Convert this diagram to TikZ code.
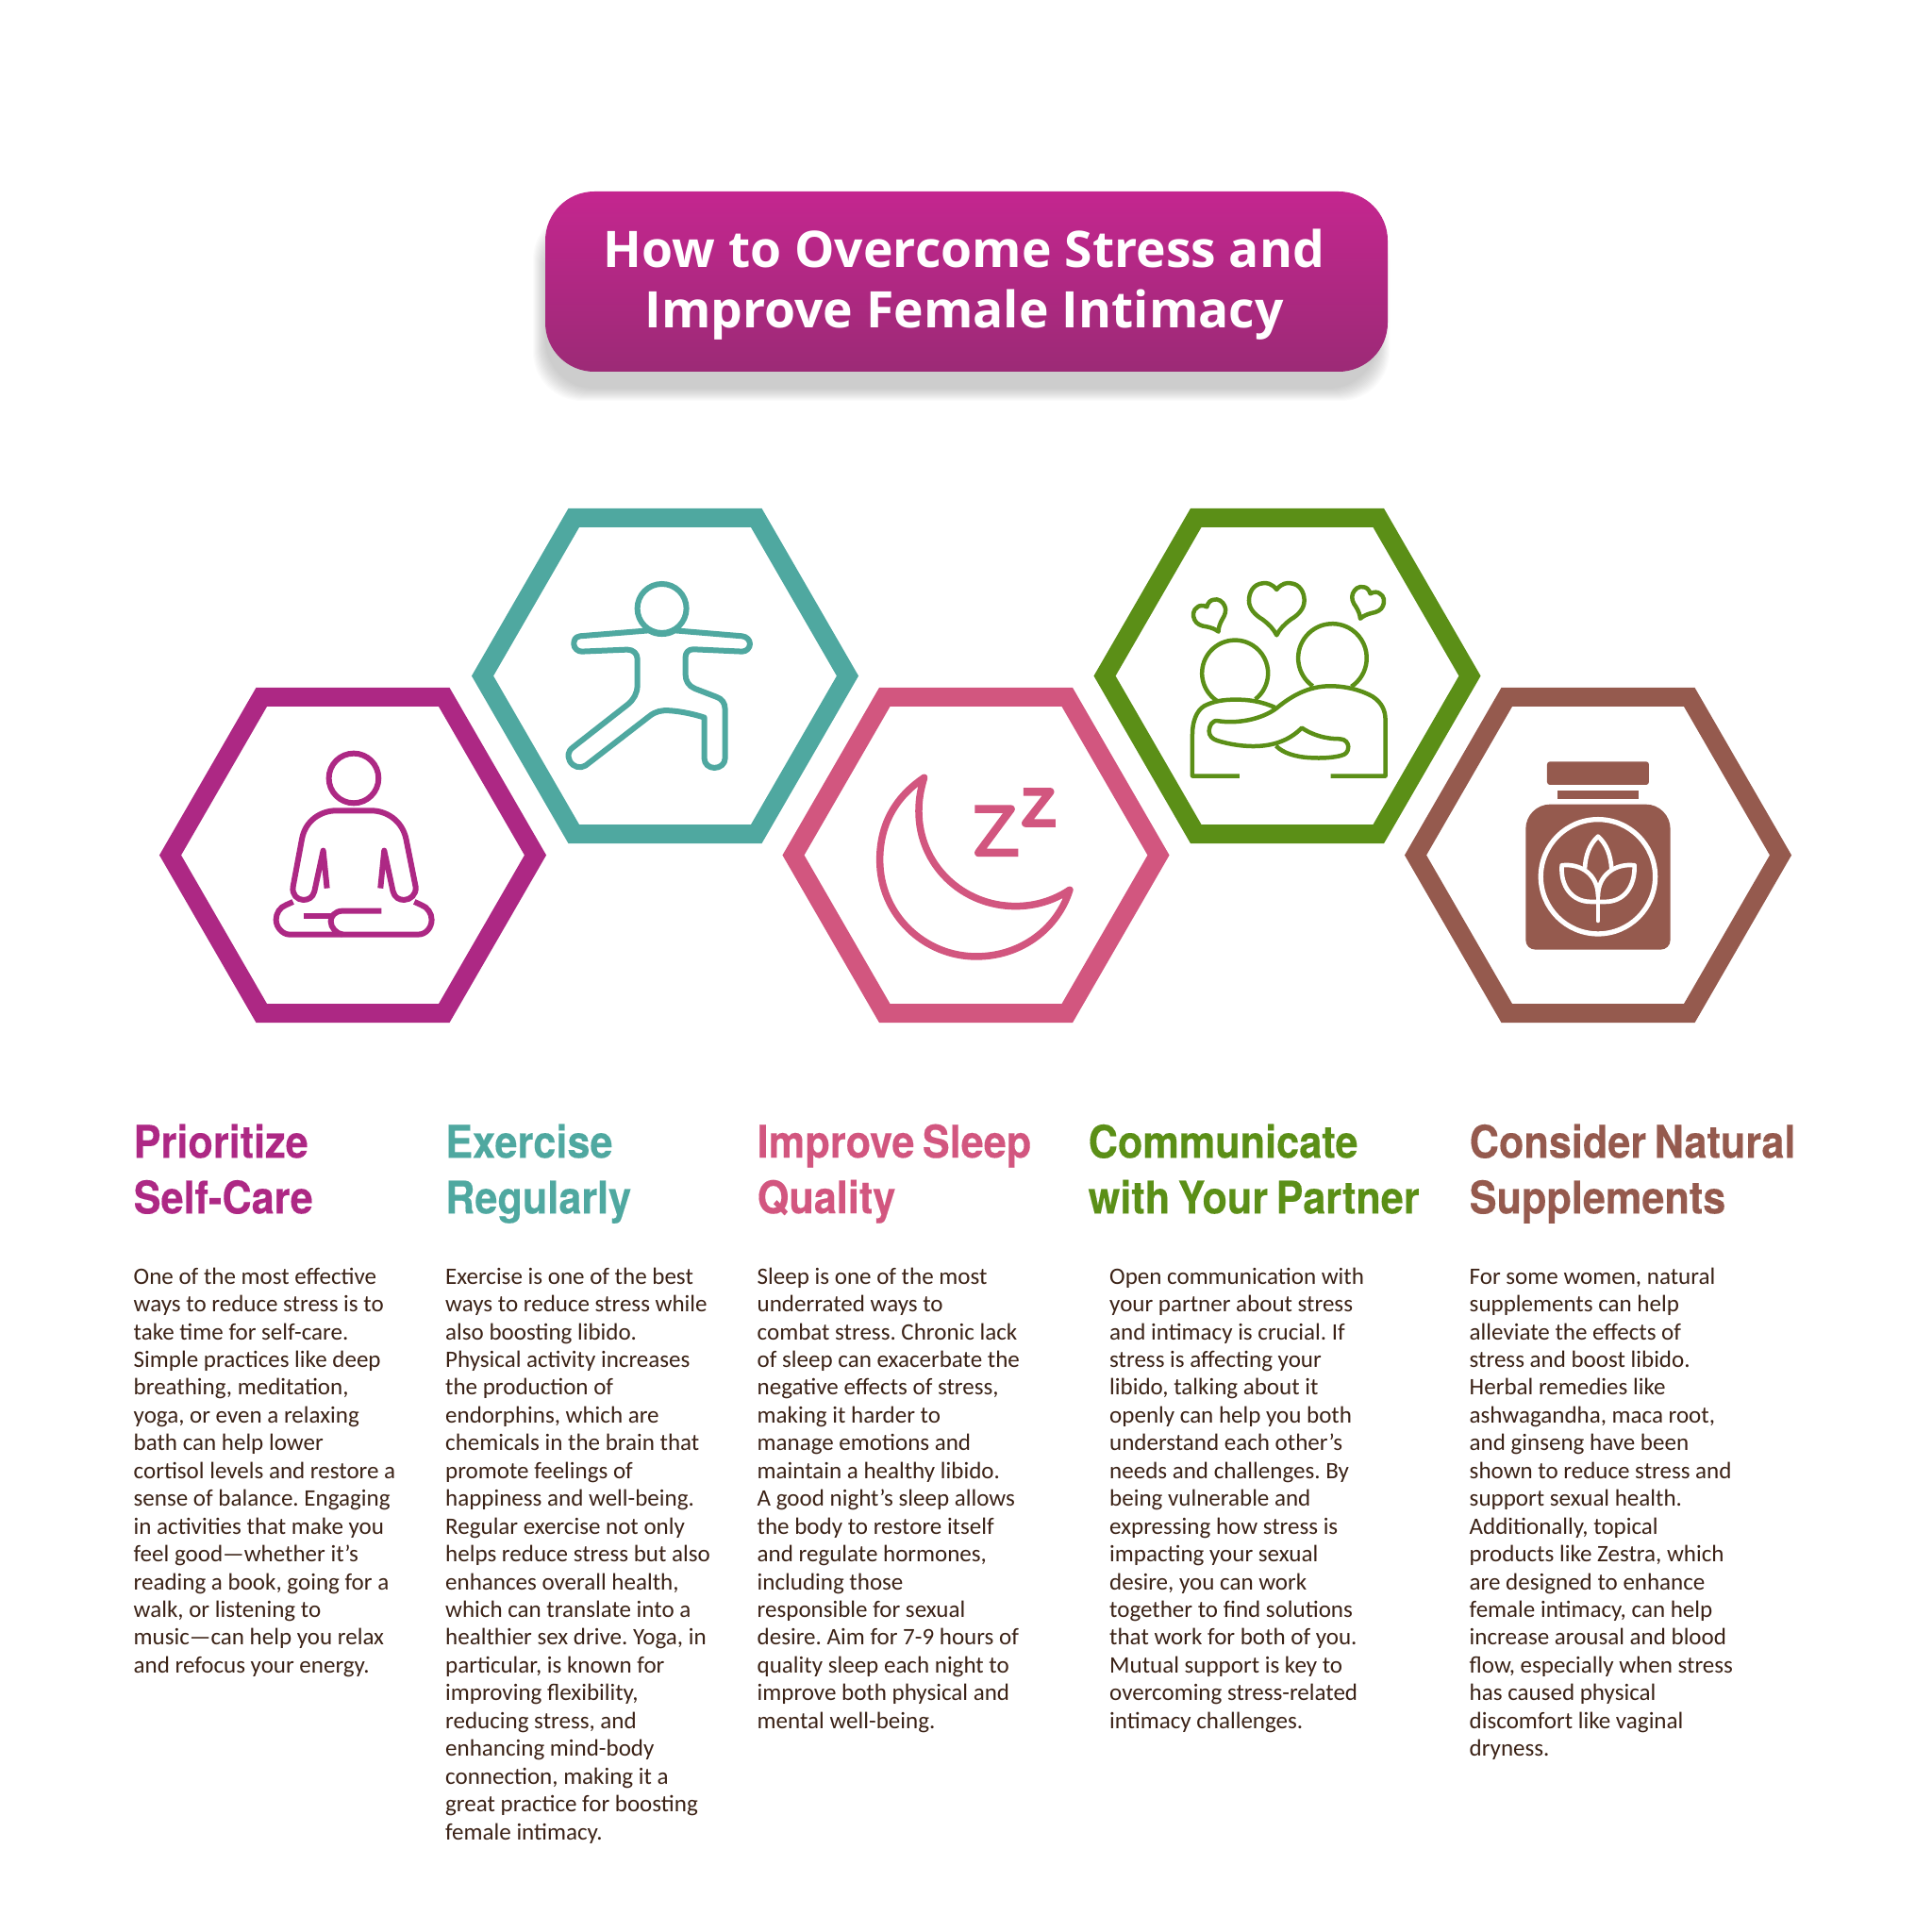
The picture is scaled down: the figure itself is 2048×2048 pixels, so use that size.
\documentclass[tikz,border=0pt]{standalone}
\usepackage{fontspec}
\usepackage{tikz}
\usetikzlibrary{positioning,shapes.geometric}
\newfontfamily\titlefont{Open Sans Bold}
\newfontfamily\headfont[FakeStretch=0.905,WordSpace=0.7,FakeBold=0.25]{TeX Gyre Heros Bold}
\newfontfamily\bodyfont{Carlito}
\definecolor{plum}{HTML}{AD2884}
\definecolor{seagreen}{HTML}{4FA8A0}
\definecolor{rose}{HTML}{D2567F}
\definecolor{leaf}{HTML}{5B8F17}
\definecolor{clay}{HTML}{955A4E}
\definecolor{inkbrown}{HTML}{3B2216}
\definecolor{bannertop}{HTML}{C4268F}
\definecolor{bannerbottom}{HTML}{9C2A76}
\newcommand{\lovepath}{(0,0) .. controls (15,-20) and (35,-23) .. (45,-20) .. controls (75,-17) and (88,10) .. (88,35) .. controls (88,60) and (70,80) .. (45,95) .. controls (25,110) and (10,125) .. (0,145) .. controls (-10,125) and (-25,110) .. (-45,95) .. controls (-70,80) and (-88,60) .. (-88,35) .. controls (-88,10) and (-75,-17) .. (-45,-20) .. controls (-35,-23) and (-15,-20) .. (0,0) -- cycle}

\begin{document}
\begin{tikzpicture}[
  x=0.1mm,
  y=-0.1mm,
  banner/.style={
    shape=rectangle,
    rounded corners=5.2mm,
    minimum width=89.3mm,
    minimum height=19.1mm,
    top color=bannertop,
    bottom color=bannerbottom,
  },
  bannertext/.style={
    text=white,
    align=center,
    font=\titlefont\fontsize{15.2}{18.2}\selectfont,
  },
  hexbox/.style={
    shape=regular polygon,
    regular polygon sides=6,
    minimum size=38.7mm,
    inner sep=0pt,
    outer sep=0pt,
    line width=2mm,
  },
  heading/.style={
    anchor=north west,
    align=left,
    inner sep=0pt,
    font=\headfont\fontsize{13.6}{16.8}\selectfont,
  },
  bodytext/.style={
    anchor=north west,
    align=left,
    inner sep=0pt,
    text=inkbrown,
    font=\bodyfont\frenchspacing\fontsize{7.12}{8.38}\selectfont,
  },
  zoomed/.style={
    x=0.03333mm,
    y=-0.03333mm,
  },
  iconline/.style={
    draw,
    line join=round,
    line width=0.6mm,
  }]
  \useasboundingbox (0,0) rectangle (2048,2048);

  % soft shadow under the banner
  \foreach \i in {1,...,14}
    \fill[black, opacity=0.014, rounded corners=5.2mm] (564+\i,222+\i) rectangle (1474-\i,426-\i);
  \node[banner] (title) at (1024.5,298.5) {};
  \node[bannertext, yshift=-0.35mm, xshift=-0.25mm] (titletext) at (title) {How to Overcome Stress and\\Improve Female Intimacy};

  % hexagons
  \node[hexbox, draw=plum] (hexA) at (374,906.5) {};
  \node[hexbox, draw=seagreen] (hexB) at (705,716.5) {};
  \node[hexbox, draw=rose] (hexC) at (1034.5,906.5) {};
  \node[hexbox, draw=leaf] (hexD) at (1364.5,716.5) {};
  \node[hexbox, draw=clay] (hexE) at (1694,906.5) {};

  % meditating figure
  \begin{scope}[shift={(160,720)}, zoomed, plum]
    \draw[iconline] (645,315) circle[radius=79];
    \draw[iconline] (560,665) -- (548,545) -- (520,675) .. controls (515,695) and (500,702) .. (485,702)
      .. controls (465,702) and (448,685) .. (452,660) -- (480,510) .. controls (490,450) and (540,418) .. (590,418)
      -- (700,418) .. controls (750,418) and (800,450) .. (812,510) -- (842,660)
      .. controls (845,685) and (825,702) .. (805,702) .. controls (790,702) and (775,695) .. (770,675)
      -- (742,545) -- (730,665);
    \draw[iconline] (452,708) -- (430,718) .. controls (410,725) and (398,745) .. (398,765)
      .. controls (398,790) and (420,812) .. (440,812) -- (850,812)
      .. controls (875,812) and (893,790) .. (893,765) .. controls (893,745) and (880,725) .. (860,718) -- (838,708);
    \draw[iconline] (485,752) -- (575,752);
    \draw[iconline] (733,737) -- (610,737) .. controls (585,737) and (572,755) .. (572,770)
      .. controls (572,790) and (590,810) .. (610,812);
  \end{scope}

  % warrior pose
  \begin{scope}[shift={(500,530)}, zoomed, seagreen]
    \draw[iconline] (605,345) circle[radius=78];
    \draw[iconline] (565,415) -- (345,433) .. controls (328,435) and (325,448) .. (325,458)
      .. controls (325,472) and (338,482) .. (350,482) -- (495,476) .. controls (515,476) and (527,490) .. (527,505)
      -- (527,590) .. controls (527,615) and (515,635) .. (497,650) -- (322,787)
      .. controls (305,800) and (305,815) .. (312,830) .. controls (322,850) and (345,855) .. (362,845)
      -- (565,688) .. controls (585,672) and (605,668) .. (630,670) .. controls (665,672) and (710,682) .. (740,692)
      -- (740,822) .. controls (740,840) and (755,852) .. (772,852) .. controls (790,852) and (806,840) .. (806,822)
      -- (806,665) .. controls (806,645) and (795,632) .. (780,627) -- (710,600)
      .. controls (690,592) and (680,575) .. (680,555) -- (680,500) .. controls (680,485) and (690,475) .. (705,475)
      -- (860,482) .. controls (875,482) and (885,470) .. (885,458) .. controls (885,445) and (875,435) .. (860,433)
      -- (645,415);
    \draw[iconline] (565,415) .. controls (585,430) and (625,430) .. (645,415);
  \end{scope}

  % moon
  \begin{scope}[shift={(830,720)}, zoomed, rose]
    \draw[iconline, line width=0.75mm] (449,313) .. controls (350,380) and (308,470) .. (308,575)
      .. controls (308,750) and (450,882) .. (615,882) .. controls (760,882) and (875,790) .. (912,670)
      .. controls (860,705) and (800,722) .. (740,722) .. controls (570,722) and (432,590) .. (432,420)
      .. controls (432,380) and (438,350) .. (449,313) -- cycle;
    \draw[iconline, line width=0.85mm] (610,413) -- (725,413) -- (622,552) -- (748,552);
    \draw[iconline, line width=0.85mm] (765,358) -- (850,358) -- (772,458) -- (867,458);
  \end{scope}

  % couple
  \begin{scope}[shift={(1160,530)}, zoomed, leaf]
    \tikzset{iconline/.append style={line width=0.45mm}}
    \draw[iconline, shift={(580,285)}] \lovepath;
    \draw[iconline, shift={(358,340)}, rotate=25, scale=0.6] \lovepath;
    \draw[iconline, shift={(878,298)}, rotate=-22, scale=0.59] \lovepath;
    \draw[iconline] (392,640) arc[start angle=122, end angle=412, radius=105];
    \draw[iconline] (695,592) arc[start angle=125, end angle=416.5, radius=109];
    \draw[iconline] (575,660) .. controls (530,640) and (490,635) .. (450,635)
      .. controls (410,635) and (380,640) .. (350,655) .. controls (325,670) and (312,705) .. (312,745)
      -- (312,878) -- (462,878);
    \draw[iconline] (578,782) .. controls (600,805) and (640,818) .. (690,820)
      .. controls (720,822) and (760,820) .. (785,813) .. controls (800,810) and (808,800) .. (808,785)
      .. controls (808,775) and (800,760) .. (780,760) .. controls (730,760) and (690,745) .. (660,725)
      .. controls (625,760) and (580,780) .. (520,783) .. controls (480,785) and (430,778) .. (390,765)
      .. controls (375,760) and (365,750) .. (365,735) .. controls (365,720) and (375,698) .. (395,703)
      .. controls (450,712) and (530,700) .. (580,662) .. controls (625,625) and (680,592) .. (750,592)
      .. controls (800,592) and (850,605) .. (885,625) .. controls (915,645) and (926,670) .. (926,700)
      -- (926,878) -- (752,878);
  \end{scope}

  % jar
  \begin{scope}[shift={(1500,720)}, zoomed]
    \fill[clay, rounded corners=0.3mm] (420,262) rectangle (744,336);
    \fill[clay] (454,353) rectangle (710,382);
    \fill[clay] (430,398) -- (734,398) .. controls (777,398) and (812,433) .. (812,476) -- (812,830)
      .. controls (812,847) and (798,860) .. (782,860) -- (382,860) .. controls (366,860) and (352,847) .. (352,830)
      -- (352,476) .. controls (352,433) and (387,398) .. (430,398) -- cycle;
    \draw[white, line width=0.53mm] (582,628) circle[radius=182];
    \draw[white, line width=0.47mm, line join=round, line cap=round] (582,768) -- (582,665);
    \draw[white, line width=0.47mm, line join=round, line cap=round] (467,592)
      .. controls (462,660) and (500,708) .. (560,708) -- (604,708)
      .. controls (665,708) and (700,660) .. (698,592) .. controls (640,585) and (582,620) .. (582,690)
      .. controls (582,620) and (525,585) .. (467,592) -- cycle;
    \draw[white, line width=0.47mm, line join=round] (540,602) .. controls (542,560) and (555,525) .. (582,500)
      .. controls (610,525) and (622,560) .. (625,602);
  \end{scope}

  % headings
  \node[heading, text=plum] (headA) at (141,1191) {Prioritize\\Self-Care};
  \node[heading, text=seagreen] (headB) at (471.5,1191) {Exercise\\Regularly};
  \node[heading, text=rose] (headC) at (802,1191) {Improve Sleep\\Quality};
  \node[heading, text=leaf] (headD) at (1153,1191) {Communicate\\with Your Partner};
  \node[heading, text=clay] (headE) at (1557,1191) {Consider Natural\\Supplements};

  % body columns
  \node[bodytext, below=15.2mm of headA.north west, anchor=north west] (textA) {One of the most effective\\ways to reduce stress is to\\take time for self-care.\\Simple practices like deep\\breathing, meditation,\\yoga, or even a relaxing\\bath can help lower\\cortisol levels and restore a\\sense of balance. Engaging\\in activities that make you\\feel good—whether it’s\\reading a book, going for a\\walk, or listening to\\music—can help you relax\\and refocus your energy.};
  \node[bodytext, below=15.2mm of headB.north west, anchor=north west] (textB) {Exercise is one of the best\\ways to reduce stress while\\also boosting libido.\\Physical activity increases\\the production of\\endorphins, which are\\chemicals in the brain that\\promote feelings of\\happiness and well-being.\\Regular exercise not only\\helps reduce stress but also\\enhances overall health,\\which can translate into a\\healthier sex drive. Yoga, in\\particular, is known for\\improving flexibility,\\reducing stress, and\\enhancing mind-body\\connection, making it a\\great practice for boosting\\female intimacy.};
  \node[bodytext, below=15.2mm of headC.north west, anchor=north west] (textC) {Sleep is one of the most\\underrated ways to\\combat stress. Chronic lack\\of sleep can exacerbate the\\negative effects of stress,\\making it harder to\\manage emotions and\\maintain a healthy libido.\\A good night’s sleep allows\\the body to restore itself\\and regulate hormones,\\including those\\responsible for sexual\\desire. Aim for 7-9 hours of\\quality sleep each night to\\improve both physical and\\mental well-being.};
  \node[bodytext, below=15.2mm of headD.north west, anchor=north west, xshift=2.25mm] (textD) {Open communication with\\your partner about stress\\and intimacy is crucial. If\\stress is affecting your\\libido, talking about it\\openly can help you both\\understand each other’s\\needs and challenges. By\\being vulnerable and\\expressing how stress is\\impacting your sexual\\desire, you can work\\together to find solutions\\that work for both of you.\\Mutual support is key to\\overcoming stress-related\\intimacy challenges.};
  \node[bodytext, below=15.2mm of headE.north west, anchor=north west] (textE) {For some women, natural\\supplements can help\\alleviate the effects of\\stress and boost libido.\\Herbal remedies like\\ashwagandha, maca root,\\and ginseng have been\\shown to reduce stress and\\support sexual health.\\Additionally, topical\\products like Zestra, which\\are designed to enhance\\female intimacy, can help\\increase arousal and blood\\flow, especially when stress\\has caused physical\\discomfort like vaginal\\dryness.};
\end{tikzpicture}
\end{document}
